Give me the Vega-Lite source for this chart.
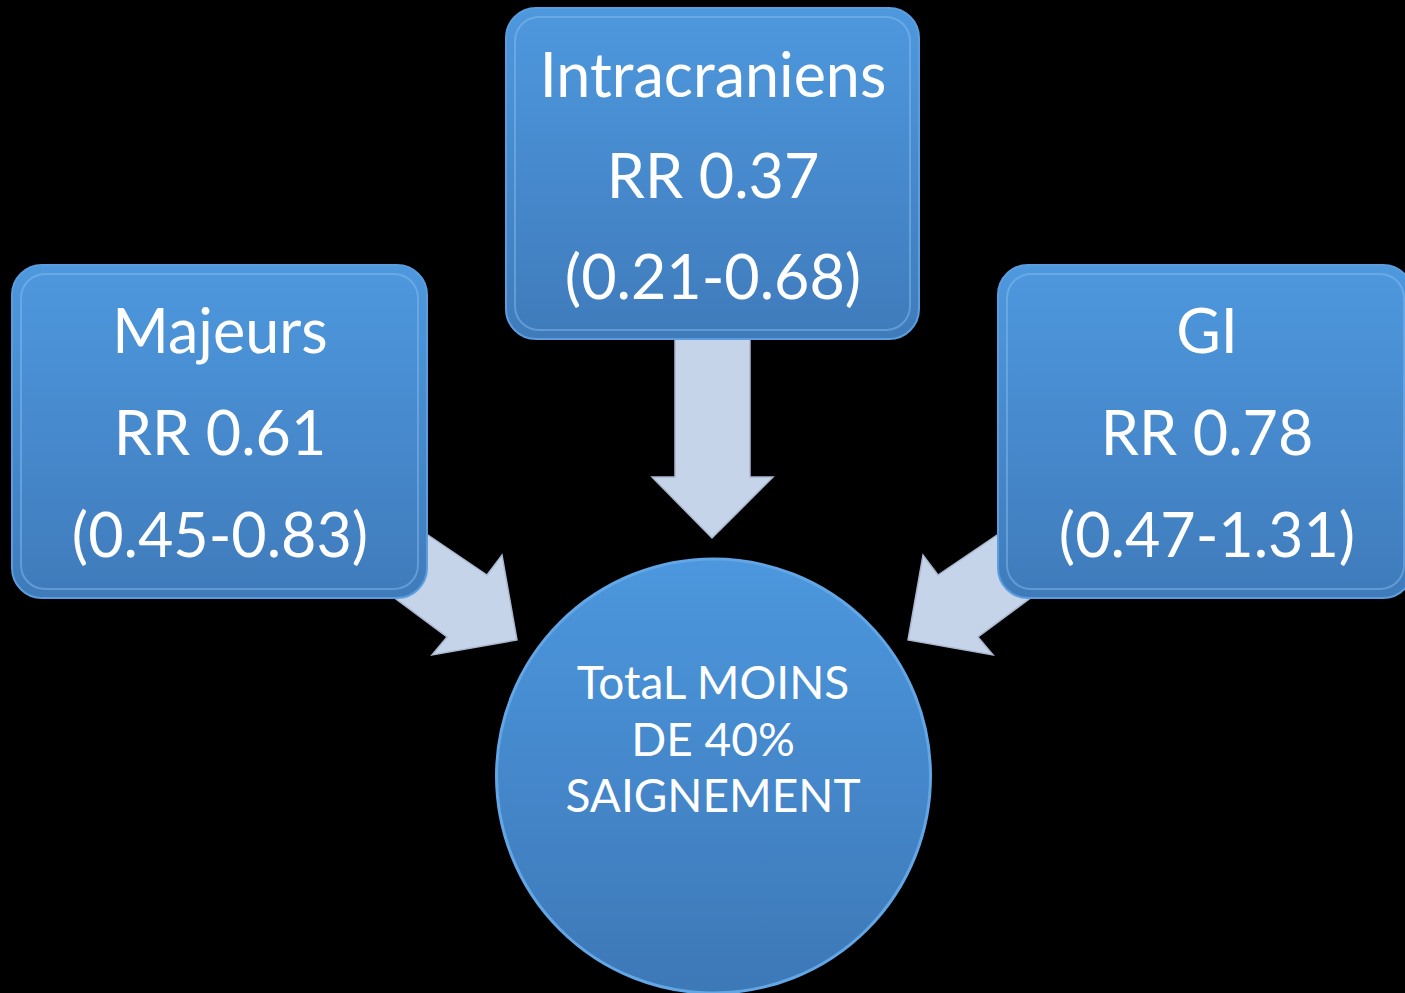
{
  "$schema": "https://vega.github.io/schema/vega-lite/v6.json",
  "width": 1405,
  "height": 993,
  "padding": 0,
  "autosize": {"type": "none"},
  "background": "#000000",
  "config": {"view": {"stroke": null}},
  "datasets": {
    "arrows": [
      {"arrow": "left", "i": 0, "x": 394, "y": 512},
      {"arrow": "left", "i": 1, "x": 487, "y": 575},
      {"arrow": "left", "i": 2, "x": 502, "y": 555},
      {"arrow": "left", "i": 3, "x": 517, "y": 640},
      {"arrow": "left", "i": 4, "x": 432, "y": 655},
      {"arrow": "left", "i": 5, "x": 447, "y": 637},
      {"arrow": "left", "i": 6, "x": 353, "y": 567},
      {"arrow": "mid", "i": 0, "x": 675, "y": 320},
      {"arrow": "mid", "i": 1, "x": 750, "y": 320},
      {"arrow": "mid", "i": 2, "x": 750, "y": 477},
      {"arrow": "mid", "i": 3, "x": 773, "y": 477},
      {"arrow": "mid", "i": 4, "x": 712, "y": 538},
      {"arrow": "mid", "i": 5, "x": 652, "y": 477},
      {"arrow": "mid", "i": 6, "x": 675, "y": 477},
      {"arrow": "right", "i": 0, "x": 1031, "y": 512},
      {"arrow": "right", "i": 1, "x": 938, "y": 575},
      {"arrow": "right", "i": 2, "x": 923, "y": 555},
      {"arrow": "right", "i": 3, "x": 908, "y": 640},
      {"arrow": "right", "i": 4, "x": 993, "y": 655},
      {"arrow": "right", "i": 5, "x": 978, "y": 637},
      {"arrow": "right", "i": 6, "x": 1072, "y": 567}
    ],
    "boxes": [
      {"box": "Majeurs", "x0": 12, "x1": 427, "y0": 265, "y1": 598},
      {"box": "Intracraniens", "x0": 506, "x1": 919, "y0": 8, "y1": 339},
      {"box": "GI", "x0": 998, "x1": 1413, "y0": 265, "y1": 598}
    ],
    "circle": [
      {"node": "Total", "x": 713.5, "y": 776}
    ],
    "boxText": [
      {"label": "Majeurs", "x": 220, "y": 353},
      {"label": "RR 0.61", "x": 220, "y": 455},
      {"label": "(0.45-0.83)", "x": 220, "y": 557},
      {"label": "Intracraniens", "x": 713, "y": 97},
      {"label": "RR 0.37", "x": 713, "y": 198},
      {"label": "(0.21-0.68)", "x": 713, "y": 299},
      {"label": "GI", "x": 1207, "y": 353},
      {"label": "RR 0.78", "x": 1207, "y": 455},
      {"label": "(0.47-1.31)", "x": 1207, "y": 557}
    ],
    "circleText": [
      {"label": "TotaL MOINS", "x": 713, "y": 699},
      {"label": "DE 40%", "x": 713, "y": 756},
      {"label": "SAIGNEMENT", "x": 713, "y": 812}
    ]
  },
  "layer": [
    {
      "data": {"name": "arrows"},
      "mark": {"type": "line", "interpolate": "linear-closed", "fill": "#c6d4e9", "stroke": "#a9b8cf", "strokeWidth": 1.5, "fillOpacity": 1},
      "encoding": {
        "x": {"field": "x", "type": "quantitative", "scale": {"domain": [0, 1405], "nice": false, "zero": false}, "axis": null},
        "y": {"field": "y", "type": "quantitative", "scale": {"domain": [0, 993], "reverse": true, "nice": false, "zero": false}, "axis": null},
        "detail": {"field": "arrow"},
        "order": {"field": "i", "type": "quantitative"}
      }
    },
    {
      "data": {"name": "boxes"},
      "mark": {
        "type": "rect",
        "cornerRadius": 30,
        "fill": {"gradient": "linear", "x1": 0, "y1": 0, "x2": 0, "y2": 1, "stops": [{"offset": 0, "color": "#4e98de"}, {"offset": 1, "color": "#3f7bbb"}]},
        "stroke": "#5a9ee0",
        "strokeWidth": 2
      },
      "encoding": {
        "x": {"field": "x0", "type": "quantitative"},
        "x2": {"field": "x1"},
        "y": {"field": "y0", "type": "quantitative"},
        "y2": {"field": "y1"}
      }
    },
    {
      "data": {"name": "boxes"},
      "mark": {
        "type": "rect",
        "cornerRadius": 24,
        "fill": null,
        "fillOpacity": 0,
        "stroke": "#8cc2f2",
        "strokeOpacity": 0.45,
        "strokeWidth": 2,
        "xOffset": 9,
        "x2Offset": -9,
        "yOffset": 9,
        "y2Offset": -9
      },
      "encoding": {
        "x": {"field": "x0", "type": "quantitative"},
        "x2": {"field": "x1"},
        "y": {"field": "y0", "type": "quantitative"},
        "y2": {"field": "y1"}
      }
    },
    {
      "data": {"name": "circle"},
      "mark": {
        "type": "point",
        "shape": "circle",
        "filled": true,
        "opacity": 1,
        "size": 188356,
        "fill": {"gradient": "linear", "x1": 0, "y1": 0, "x2": 0, "y2": 1, "stops": [{"offset": 0, "color": "#4c97de"}, {"offset": 1, "color": "#3d78b7"}]},
        "stroke": "#62a6e6",
        "strokeWidth": 3
      },
      "encoding": {
        "x": {"field": "x", "type": "quantitative"},
        "y": {"field": "y", "type": "quantitative"}
      }
    },
    {
      "data": {"name": "boxText"},
      "mark": {"type": "text", "font": "Lato", "fontSize": 61, "color": "#ffffff", "align": "center", "baseline": "alphabetic"},
      "encoding": {
        "x": {"field": "x", "type": "quantitative"},
        "y": {"field": "y", "type": "quantitative"},
        "text": {"field": "label"}
      }
    },
    {
      "data": {"name": "circleText"},
      "mark": {"type": "text", "font": "Lato", "fontSize": 46, "color": "#ffffff", "align": "center", "baseline": "alphabetic"},
      "encoding": {
        "x": {"field": "x", "type": "quantitative"},
        "y": {"field": "y", "type": "quantitative"},
        "text": {"field": "label"}
      }
    }
  ]
}
